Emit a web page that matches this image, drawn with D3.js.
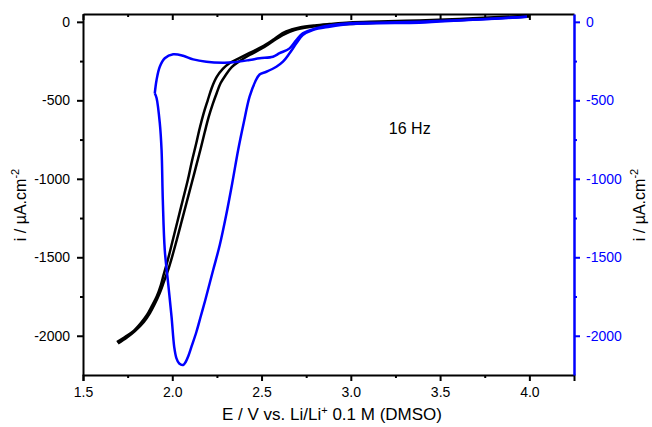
<!DOCTYPE html>
<html>
<head>
<meta charset="utf-8">
<script src="https://cdn.jsdelivr.net/npm/d3@7"></script>
<style>
  body { margin: 0; background: #fff; }
  svg { display: block; font-family: "Liberation Sans", Arial, Helvetica, sans-serif; }
</style>
</head>
<body>
<div id="chart"></div>
<script>
// axis ticks
const xTicks = [1.5, 2.0, 2.5, 3.0, 3.5, 4.0];
const yTicks = [0, -500, -1000, -1500, -2000];

// black CV (left axis), [E, i]
const blackSweepUp = [
  [1.690,-2040],[1.735,-2008],[1.780,-1973],[1.824,-1919],[1.858,-1868],[1.886,-1810],
  [1.914,-1747],[1.936,-1677],[1.953,-1606],[1.975,-1517],[2.003,-1390],[2.031,-1262],
  [2.059,-1135],[2.087,-1008],[2.109,-893],[2.132,-785],[2.154,-676],[2.176,-581],
  [2.199,-498],[2.221,-421],[2.249,-351],[2.283,-300],[2.322,-262],[2.378,-230],
  [2.433,-198],[2.501,-160],[2.562,-116],[2.618,-71],[2.668,-49],[2.713,-36],
  [2.797,-23],[2.881,-14],[2.992,-4],[3.160,2],[3.384,9],[3.607,18],[3.831,31],[3.999,37]
];
const blackSweepDown = [
  [3.999,34],[3.831,25],[3.551,9],[3.272,-1],[3.048,-11],[2.881,-20],[2.769,-33],
  [2.685,-52],[2.618,-84],[2.562,-125],[2.501,-170],[2.433,-211],[2.378,-249],
  [2.333,-288],[2.299,-339],[2.271,-390],[2.249,-453],[2.227,-523],[2.204,-606],
  [2.182,-702],[2.160,-804],[2.134,-918],[2.109,-1027],[2.081,-1148],[2.053,-1269],
  [2.025,-1390],[1.997,-1505],[1.975,-1587],[1.953,-1657],[1.930,-1728],[1.902,-1798],
  [1.875,-1855],[1.841,-1912],[1.791,-1970],[1.746,-2011],[1.696,-2049]
];

// blue CV (right axis), [E, i]
const blueSweepDown = [
  [3.987,33],[3.736,16],[3.496,2],[3.384,-5],[3.142,-9],[2.992,-14],[2.881,-31],
  [2.787,-52],[2.731,-84],[2.695,-137],[2.657,-200],[2.620,-254],[2.583,-286],
  [2.527,-318],[2.489,-335],[2.465,-380],[2.433,-477],[2.400,-644],[2.369,-816],
  [2.336,-1027],[2.302,-1231],[2.266,-1422],[2.229,-1581],[2.185,-1772],
  [2.160,-1874],[2.135,-1976],[2.109,-2065],[2.090,-2129],[2.075,-2167],[2.061,-2186],
  [2.039,-2177],[2.023,-2142],[2.011,-2072],
  [1.996,-1879],[1.977,-1666],[1.958,-1454],[1.947,-1135],[1.940,-816],[1.930,-644],
  [1.912,-485],[1.902,-455]
];
const blueSweepUp = [
  [1.902,-455],[1.912,-370],[1.930,-286],[1.958,-232],[2.005,-207],[2.061,-216],
  [2.117,-239],[2.191,-254],[2.284,-260],[2.340,-258],[2.433,-243],[2.489,-232],
  [2.564,-222],[2.601,-200],[2.657,-169],[2.695,-116],[2.731,-73],[2.806,-41],
  [2.897,-20],[2.992,-9],[3.142,-5],[3.384,1],[3.736,16],[3.987,33]
];

const blue = "#0000ff";
const width = 652, height = 427;
const margin = {top: 14, right: 78, bottom: 52, left: 83};
const plotW = width - margin.left - margin.right,
      plotH = height - margin.top - margin.bottom;

const svg = d3.select("#chart").append("svg")
    .attr("width", width)
    .attr("height", height);

const g = svg.append("g")
    .attr("transform", `translate(${margin.left},${margin.top})`);

const x = d3.scaleLinear().domain([1.5, 4.25]).range([0, plotW]);
const yL = d3.scaleLinear().domain([-2250, 50]).range([plotH, 0]);
const yR = d3.scaleLinear().domain([-2250, 50]).range([plotH, 0]);

const minorX = d3.range(1.75, 4.25, 0.5);
const minorY = [-250, -750, -1250, -1750];
const fmtY = d => String(d);

// minor ticks (no domain line)
function minor(sel, axisFn, scale, vals) {
  sel.call(axisFn(scale).tickValues(vals).tickSize(3).tickFormat(""))
     .call(s => s.select(".domain").remove());
}

// bottom
g.append("g").attr("transform", `translate(0,${plotH})`)
  .call(minor, d3.axisBottom, x, minorX);
g.append("g").attr("class", "ax")
  .attr("transform", `translate(0,${plotH})`)
  .call(d3.axisBottom(x).tickValues(xTicks).tickSize(6).tickPadding(6).tickFormat(d3.format(".1f")));

// top (inward ticks, no labels)
g.append("g").call(d3.axisBottom(x).tickValues(minorX).tickSize(3).tickFormat(""))
  .call(s => s.select(".domain").remove());
g.append("g").attr("class", "ax")
  .call(d3.axisBottom(x).tickValues(xTicks).tickSize(6).tickFormat("").tickSizeOuter(0));

// left
g.append("g").call(minor, d3.axisLeft, yL, minorY);
g.append("g").attr("class", "ax")
  .call(d3.axisLeft(yL).tickValues(yTicks).tickSize(6).tickPadding(7).tickSizeOuter(0).tickFormat(fmtY));

// right (blue)
const right = g.append("g").attr("transform", `translate(${plotW},0)`);
right.call(minor, d3.axisRight, yR, minorY);
right.append("g")
  .call(d3.axisRight(yR).tickValues(yTicks).tickSize(6).tickPadding(6).tickSizeOuter(0).tickFormat(fmtY))
  .call(s => s.selectAll("text").attr("fill", blue));
right.selectAll("line").attr("stroke", blue).attr("stroke-width", 2);
right.selectAll(".domain").attr("stroke", blue).attr("stroke-width", 2.5);

g.selectAll(".ax .domain").attr("stroke-width", 2);
g.selectAll(".tick line").attr("stroke-width", 2);
g.selectAll(".tick text").attr("font-size", 14).attr("font-family", "Liberation Sans, Arial, sans-serif");

// curves
const lineL = d3.line().x(d => x(d[0])).y(d => yL(d[1])).curve(d3.curveCatmullRom.alpha(0.5));
const lineR = d3.line().x(d => x(d[0])).y(d => yR(d[1])).curve(d3.curveCatmullRom.alpha(0.5));

[blackSweepUp, blackSweepDown].forEach(arr => {
  g.append("path").datum(arr)
    .attr("d", lineL)
    .attr("fill", "none")
    .attr("stroke", "#000")
    .attr("stroke-width", 2.5)
    .attr("stroke-linejoin", "round");
});
[blueSweepDown, blueSweepUp].forEach(arr => {
  g.append("path").datum(arr)
    .attr("d", lineR)
    .attr("fill", "none")
    .attr("stroke", blue)
    .attr("stroke-width", 2.5)
    .attr("stroke-linejoin", "round");
});

// labels
g.append("text")
  .attr("x", x(3.33)).attr("y", yL(-714))
  .attr("font-size", 16).attr("text-anchor", "middle")
  .text("16 Hz");

const xt = svg.append("text")
  .attr("x", 332).attr("y", 420)
  .attr("font-size", 17).attr("text-anchor", "middle");
xt.append("tspan").text("E / V vs. Li/Li");
xt.append("tspan").attr("dy", -6).attr("font-size", 11).text("+");
xt.append("tspan").attr("dy", 6).text(" 0.1 M (DMSO)");

function yTitle(xpos) {
  const t = svg.append("text")
    .attr("transform", `translate(${xpos},205) rotate(-90)`)
    .attr("font-size", 16).attr("text-anchor", "middle");
  t.append("tspan").text("i / \u00b5A.cm");
  t.append("tspan").attr("dy", -7).attr("font-size", 11).text("-2");
}
yTitle(26);
yTitle(645);
</script>
</body>
</html>
